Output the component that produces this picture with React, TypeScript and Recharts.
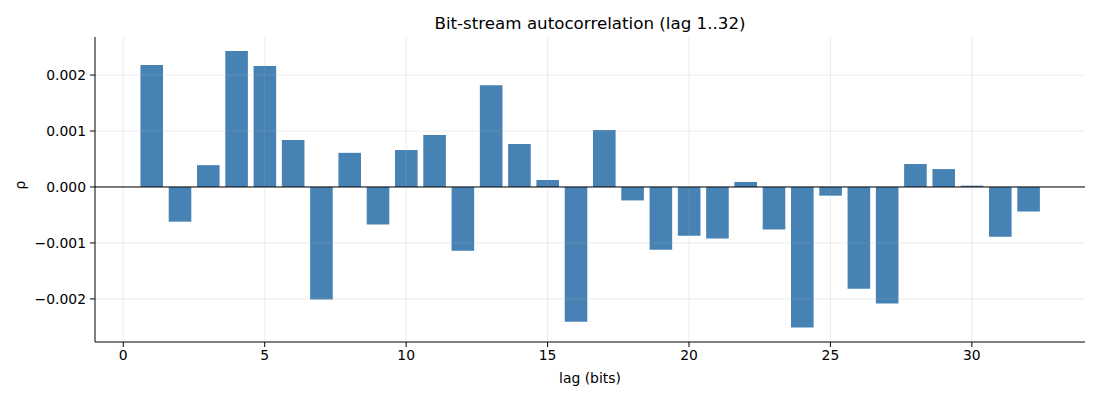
import React from 'react';
import {
  BarChart,
  Bar,
  XAxis,
  YAxis,
  ReferenceLine,
} from 'recharts';

// autocorrelation per lag
const lags = [
  1, 2, 3, 4, 5, 6, 7, 8, 9, 10, 11, 12, 13, 14, 15, 16,
  17, 18, 19, 20, 21, 22, 23, 24, 25, 26, 27, 28, 29, 30, 31, 32,
];
const rho = [
  0.00218, -0.00062, 0.00039, 0.00243, 0.00216, 0.00084, -0.00201, 0.00061,
  -0.00067, 0.00066, 0.00093, -0.00114, 0.00182, 0.00077, 0.000125, -0.00241,
  0.00102, -0.00024, -0.00112, -0.00087, -0.00092, 0.00009, -0.00076, -0.00251,
  -0.000155, -0.00182, -0.00208, 0.00041, 0.00032, 0.000024, -0.00089, -0.00044,
];
const xTicks = [0, 5, 10, 15, 20, 25, 30];
const yTicks = [-0.002, -0.001, 0, 0.001, 0.002];

const data = lags.map((lag, i) => ({ lag, rho: rho[i] }));

const FONT = '"DejaVu Sans", sans-serif';
const GRID = { stroke: '#b0b0b0', strokeOpacity: 0.3, strokeWidth: 0.8 };

function formatY(v: number): string {
  const s = Math.abs(v).toFixed(3);
  return v < 0 ? `\u2212${s}` : s;
}

export default function App() {
  return (
    <div style={{ position: 'absolute', left: 0, top: 0, width: 1100, height: 400, background: '#fff', fontFamily: FONT }}>
      <div
        style={{
          position: 'absolute',
          left: 95,
          width: 990,
          top: 13,
          textAlign: 'center',
          fontSize: 16.7,
          color: '#000',
        }}
      >
        Bit-stream autocorrelation (lag 1..32)
      </div>
      <BarChart
        width={1100}
        height={400}
        data={data}
        accessibilityLayer={false}
        margin={{ top: 37, right: 15, left: 0, bottom: 0 }}
      >
        <XAxis
          dataKey="lag"
          type="number"
          domain={[-1, 34]}
          ticks={xTicks}
          allowDataOverflow
          height={58}
          stroke="#000"
          tickSize={5}
          tickMargin={3}
          tick={{ fill: '#000', fontSize: 13.9, fontFamily: FONT }}
          label={{
            value: 'lag (bits)',
            position: 'insideBottom',
            offset: 17,
            style: { fill: '#000', fontSize: 13.9, fontFamily: FONT },
          }}
        />
        <YAxis
          type="number"
          domain={[-0.00277, 0.00268]}
          ticks={yTicks}
          allowDataOverflow
          width={95}
          stroke="#000"
          tickSize={5}
          tickMargin={4}
          tickFormatter={formatY}
          tick={{ fill: '#000', fontSize: 13.9, fontFamily: FONT }}
          label={{
            value: 'ρ',
            angle: -90,
            position: 'insideLeft',
            offset: 20,
            style: { fill: '#000', fontSize: 13.9, fontFamily: FONT },
          }}
        />
        <Bar dataKey="rho" fill="#4682b4" barSize={22.6} isAnimationActive={false} />
        {xTicks.map((t) => (
          <ReferenceLine key={`vx-${t}`} x={t} {...GRID} />
        ))}
        {yTicks.map((t) => (
          <ReferenceLine key={`hy-${t}`} y={t} {...GRID} />
        ))}
        <ReferenceLine y={0} stroke="#000" strokeWidth={1} />
      </BarChart>
    </div>
  );
}
